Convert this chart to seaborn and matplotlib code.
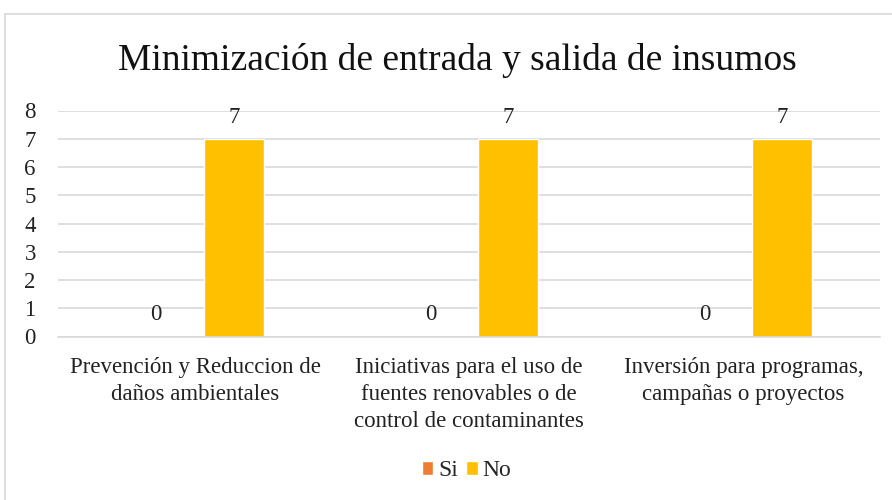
import seaborn as sns
import pandas as pd
import matplotlib.pyplot as plt
from matplotlib.patches import Rectangle

categorias = ["Prevención y Reduccion de\ndaños ambientales",
              "Iniciativas para el uso de\nfuentes renovables o de\ncontrol de contaminantes",
              "Inversión para programas,\ncampañas o proyectos"]
si = [0, 0, 0]
no = [7, 7, 7]
series = ["Si", "No"]
colores = ["#ED7D31", "#FFC000"]

df = pd.DataFrame({"Categoria": categorias * 2,
                   "Serie": ["Si"] * 3 + ["No"] * 3,
                   "Valor": si + no})

sns.set_theme(style="white")
plt.rcParams["font.family"] = ["Liberation Serif", "DejaVu Serif"]

fig = plt.figure(figsize=(8.92, 5), dpi=100)
ax = fig.add_axes([0.065, 0.327, 0.922, 0.452])

sns.barplot(ax=ax, data=df, x="Categoria", y="Valor", hue="Serie",
            hue_order=series, palette=colores, width=0.567, gap=0.23,
            saturation=1, errorbar=None)

for cont in ax.containers:
    ax.bar_label(cont, fmt="%d", padding=8, fontsize=16.5, color="#222222")

ax.set_ylim(0, 8)
ax.set_yticks(range(0, 9))
ax.grid(axis="y", color="#d9d9d9", linewidth=1.2)
ax.set_axisbelow(True)
for s in ["top", "right", "left"]:
    ax.spines[s].set_visible(False)
ax.spines["bottom"].set_color("#d9d9d9")
ax.spines["bottom"].set_linewidth(1.2)
ax.tick_params(axis="y", labelsize=16.5, pad=16, length=0, labelcolor="#222222")
ax.tick_params(axis="x", labelsize=16.5, pad=15, length=0, labelcolor="#222222")
for t in ax.get_xticklabels():
    t.set_linespacing(1.38)
ax.set_xlabel("")
ax.set_ylabel("")

ax.legend(loc="center", bbox_to_anchor=(0.523, 0.058), bbox_transform=fig.transFigure,
          ncol=2, frameon=False, fontsize=17, handlelength=0.5, handleheight=0.55,
          handletextpad=0.2, columnspacing=0.35)

fig.suptitle("Minimización de entrada y salida de insumos", x=0.513, y=0.878,
             va="center", fontsize=27, color="#111111")

fig.patches.append(Rectangle((5 / 892, -0.1), 1.1, 0.972 + 0.1, transform=fig.transFigure,
                             fill=False, edgecolor="#d9d9d9", linewidth=1.2))

fig.savefig("out.png", dpi=100)
